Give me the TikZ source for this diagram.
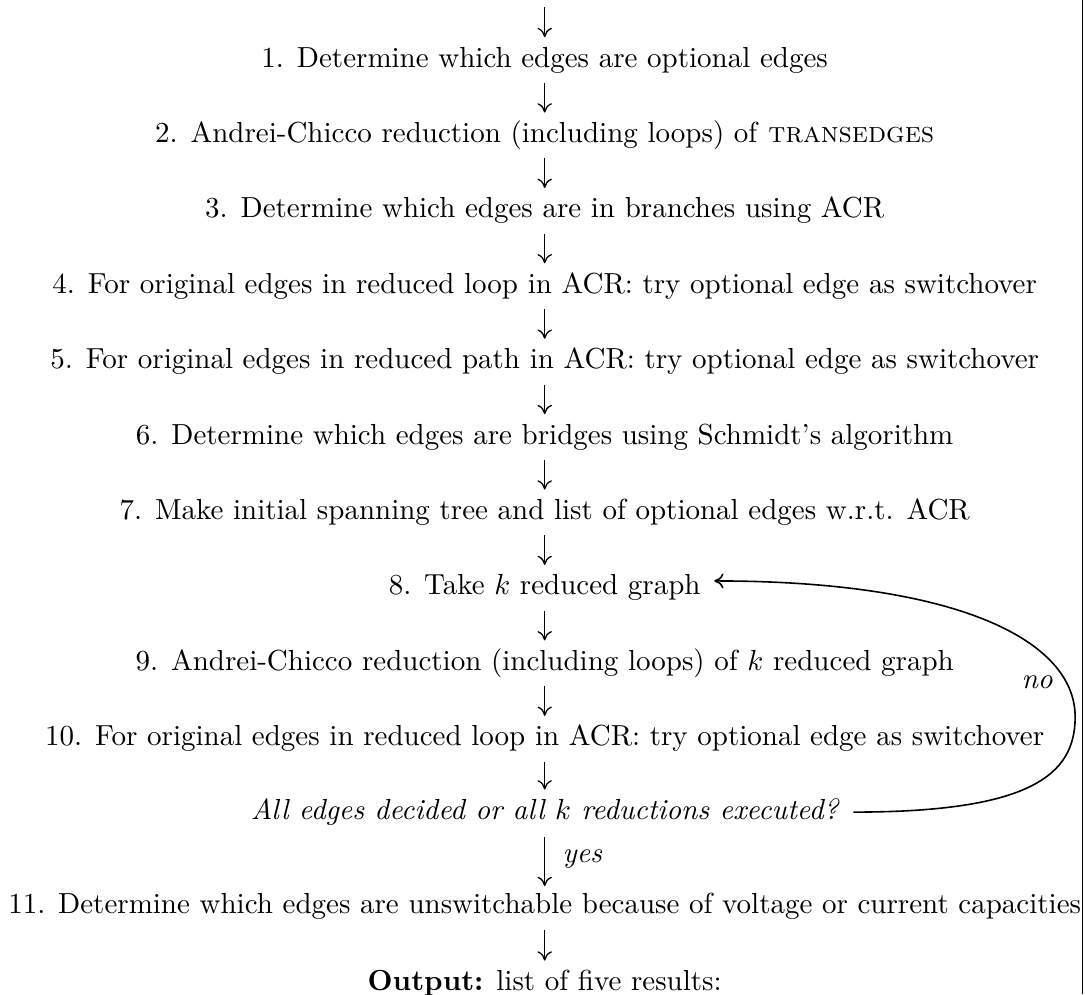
\documentclass[tikz,border=0pt]{standalone}
\usetikzlibrary{arrows.meta}
\begin{document}
\begin{tikzpicture}[x=1pt,y=1pt,
  steptext/.style={anchor=base, inner sep=0pt, font=\fontsize{10}{12}\selectfont},
  flow/.style={-{Computer Modern Rightarrow[length=3.2pt,width=5pt]}, line width=0.45pt},
  loopflow/.style={-{Computer Modern Rightarrow[length=3.2pt,width=5.2pt]}, line width=0.55pt},
  lbl/.style={anchor=base west, inner sep=0pt, font=\fontsize{10}{12}\selectfont\itshape}]
\useasboundingbox (0,0) rectangle (374.1,-342.8);
\def\cx{187.8}
\node[steptext] (t1) at (\cx,-23.1) {1. Determine which edges are optional edges};
\node[steptext] (t2) at (\cx,-49.1) {2. Andrei-Chicco reduction (including loops) of \textsc{transedges}};
\node[steptext] (t3) at (\cx,-75.1) {3. Determine which edges are in branches using ACR};
\node[steptext] (t4) at (\cx,-101.1) {4. For original edges in reduced loop in ACR: try optional edge as switchover};
\node[steptext] (t5) at (\cx,-127.1) {5. For original edges in reduced path in ACR: try optional edge as switchover};
\node[steptext] (t6) at (\cx,-153.1) {6. Determine which edges are bridges using Schmidt's algorithm};
\node[steptext] (t7) at (\cx,-179.1) {7. Make initial spanning tree and list of optional edges w.r.t. ACR};
\node[steptext] (t8) at (\cx,-205.1) {8. Take $k$ reduced graph};
\node[steptext] (t9) at (\cx,-231.1) {9. Andrei-Chicco reduction (including loops) of $k$ reduced graph};
\node[steptext] (t10) at (\cx,-257.1) {10. For original edges in reduced loop in ACR: try optional edge as switchover};
\node[steptext] (all) at (\cx,-282.5) {\itshape All edges decided or all $k$ reductions executed?};
\node[steptext] (t11) at (\cx,-315.0) {11. Determine which edges are unswitchable because of voltage or current capacities};
\node[steptext] (out) at (\cx,-341.5) {\textbf{Output:} list of five results:};
\coordinate (top) at (\cx,-2.5);
\draw[flow] (top) -- ([yshift=10.3pt]t1.base);
\foreach \a/\b in {t1/t2,t2/t3,t3/t4,t4/t5,t5/t6,t6/t7,t7/t8,t8/t9,t9/t10,t10/all,t11/out}{
  \draw[flow] ([yshift=-5.5pt]\a.base) -- ([yshift=10.3pt]\b.base);
}
\draw[flow] ([yshift=-6pt]all.base) -- node[lbl, right=6pt, pos=0.45, anchor=west] {yes} ([yshift=9.5pt]t11.base);
\coordinate (loopR) at (370.7,-247.2);
\draw[loopflow] ([shift={(5pt,2.5pt)}]all.base east) .. controls +(61pt,0) and +(0,-20pt) .. (loopR)
  .. controls +(0,26.2pt) and +(84.4pt,0) .. ([shift={(4.5pt,4.8pt)}]t8.base east);
\node[lbl] (no) at (352,-237.5) {no};
\draw[line width=0.4pt] (373.1,0) -- (373.1,-342.8);
\end{tikzpicture}
\end{document}
